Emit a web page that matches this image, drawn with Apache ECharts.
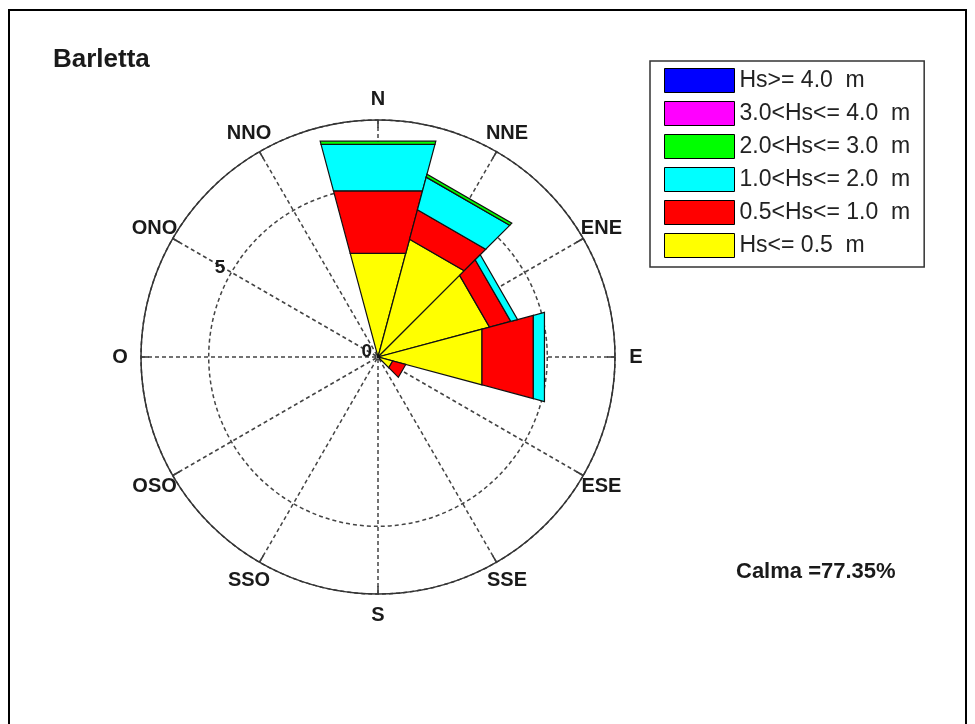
<!DOCTYPE html>
<html>
<head>
<meta charset="utf-8">
<title>Barletta</title>
<script src="https://cdn.jsdelivr.net/npm/echarts@6.0.0/dist/echarts.min.js"></script>
<style>
    html, body { margin: 0; padding: 0; background: #fff; }
    #chart { width: 975px; height: 724px; }
</style>
</head>
<body>
<div id="chart"></div>
<script>
// sectors, clockwise from north (degrees)
var directions = ['N', 'NNE', 'ENE', 'E', 'ESE', 'SSE', 'S', 'SSO', 'OSO', 'O', 'ONO', 'NNO'];
var dirAngles = [0, 30, 60, 90, 120, 150, 180, 210, 240, 270, 300, 330];

// wave height classes, inner to outer
var classNames = ['Hs<= 0.5  m', '0.5<Hs<= 1.0  m', '1.0<Hs<= 2.0  m', '2.0<Hs<= 3.0  m', '3.0<Hs<= 4.0  m', 'Hs>= 4.0  m'];
var classColors = ['#ffff00', '#ff0000', '#00ffff', '#00ff00', '#ff00ff', '#0000ff'];

// frequency (%) per class for each direction
var hs05 = [3.17, 3.60, 3.41, 3.18, 0.45, 0, 0, 0, 0, 0, 0, 0];
var hs10 = [1.91, 0.90, 0.65, 1.57, 0.40, 0, 0, 0, 0, 0, 0, 0];
var hs20 = [1.42, 1.00, 0.21, 0.34, 0, 0, 0, 0, 0, 0, 0, 0];
var hs30 = [0.10, 0.09, 0, 0, 0, 0, 0, 0, 0, 0, 0, 0];
var hs40 = [0, 0, 0, 0, 0, 0, 0, 0, 0, 0, 0, 0];
var hs4p = [0, 0, 0, 0, 0, 0, 0, 0, 0, 0, 0, 0];
var classValues = [hs05, hs10, hs20, hs30, hs40, hs4p];

// radial scale
var ringValues = [0, 5];
var radiusMax = 7;
var labelAngle = 300;   // ring labels sit on the ONO spoke

var stationName = 'Barletta';
var calmaText = 'Calma =77.35%';

var sectorHalf = 15;
var labelRadius = 7.62;
var fontName = '"Liberation Sans", Arial, sans-serif';

// compass degrees -> angle axis value (axis starts at ONO, clockwise)
function toAxis(deg) {
    return ((deg - labelAngle) % 360 + 360) % 360;
}

var chartDom = document.getElementById('chart');
var roseChart = echarts.init(chartDom);

// stacked segments
var series = [];
var base = dirAngles.map(function () { return 0; });
for (var k = 0; k < classNames.length; k++) {
    var segs = [];
    for (var i = 0; i < dirAngles.length; i++) {
        var v = classValues[k][i];
        if (v > 0) {
            segs.push([base[i] + v, dirAngles[i], base[i]]);
            base[i] += v;
        }
    }
    series.push({
        name: classNames[k],
        type: 'custom',
        coordinateSystem: 'polar',
        clip: false,
        itemStyle: { color: classColors[k] },
        renderItem: function (params, api) {
            var r1 = api.value(0), dir = api.value(1), r0 = api.value(2);
            var a0 = toAxis(dir - sectorHalf);
            var a1 = toAxis(dir + sectorHalf);
            var pts = [
                api.coord([r0, a0]),
                api.coord([r0, a1]),
                api.coord([r1, a1]),
                api.coord([r1, a0])
            ];
            return {
                type: 'polygon',
                shape: { points: pts },
                style: { fill: api.visual('color'), stroke: '#111', lineWidth: 1.2 }
            };
        },
        data: segs
    });
}

// direction labels around the rose
series.push({
    type: 'custom',
    coordinateSystem: 'polar',
    clip: false,
    silent: true,
    renderItem: function (params, api) {
        var p = api.coord([api.value(0), api.value(1)]);
        return {
            type: 'text',
            style: {
                x: p[0], y: p[1],
                text: directions[params.dataIndex],
                fill: '#1a1a1a',
                font: 'bold 20px ' + fontName,
                align: 'center',
                verticalAlign: 'middle'
            }
        };
    },
    data: dirAngles.map(function (d) { return [labelRadius, toAxis(d)]; })
});

// ring labels on the ONO spoke
series.push({
    type: 'custom',
    coordinateSystem: 'polar',
    clip: false,
    silent: true,
    z: 5,
    renderItem: function (params, api) {
        var p = api.coord([api.value(0), api.value(1)]);
        return {
            type: 'text',
            style: {
                x: p[0] - 6, y: p[1] - 5,
                text: String(ringValues[params.dataIndex]),
                fill: '#1a1a1a',
                font: 'bold 19px ' + fontName,
                align: 'right',
                verticalAlign: 'middle'
            }
        };
    },
    data: ringValues.map(function (r) { return [r, toAxis(labelAngle)]; })
});

var option = {
    animation: false,
    backgroundColor: '#fff',
    graphic: [{
        type: 'rect',
        shape: { x: 9, y: 10, width: 957, height: 740 },
        style: { fill: null, stroke: '#000', lineWidth: 2 },
        silent: true
    }],
    title: [{
        text: stationName,
        left: 53,
        top: 47,
        padding: 0,
        textStyle: { fontSize: 26, fontWeight: 'bold', color: '#1a1a1a', fontFamily: fontName }
    }, {
        text: calmaText,
        left: 736,
        top: 561,
        padding: 0,
        textStyle: { fontSize: 22, fontWeight: 'bold', color: '#1a1a1a', fontFamily: fontName }
    }],
    legend: {
        data: classNames.slice().reverse(),
        orient: 'vertical',
        left: 650,
        top: 61,
        icon: 'rect',
        itemWidth: 70,
        itemHeight: 24,
        itemGap: 8,
        padding: [7, 14, 9, 14],
        borderColor: '#333',
        borderWidth: 1.5,
        selectedMode: false,
        itemStyle: { borderColor: '#000', borderWidth: 1 },
        textStyle: { fontSize: 23, color: '#222', fontFamily: fontName }
    },
    polar: {
        center: [378, 357],
        radius: 237
    },
    angleAxis: {
        type: 'value',
        min: 0,
        max: 360,
        interval: 30,
        startAngle: 90 + (360 - labelAngle) % 360,
        clockwise: true,
        axisLine: { show: true, lineStyle: { color: '#333', width: 1.5 } },
        axisTick: { show: true, inside: true, length: 8, lineStyle: { color: '#333', width: 1.5 } },
        axisLabel: { show: false },
        splitLine: { show: true, lineStyle: { color: '#444', width: 1.5, type: [4, 3] } }
    },
    radiusAxis: {
        type: 'value',
        min: 0,
        max: radiusMax,
        interval: 5,
        axisLine: { show: false },
        axisTick: { show: false },
        axisLabel: { show: false },
        splitLine: { show: true, lineStyle: { color: '#444', width: 1.5, type: [4, 3] } }
    },
    series: series
};

option && roseChart.setOption(option);
</script>
</body>
</html>
